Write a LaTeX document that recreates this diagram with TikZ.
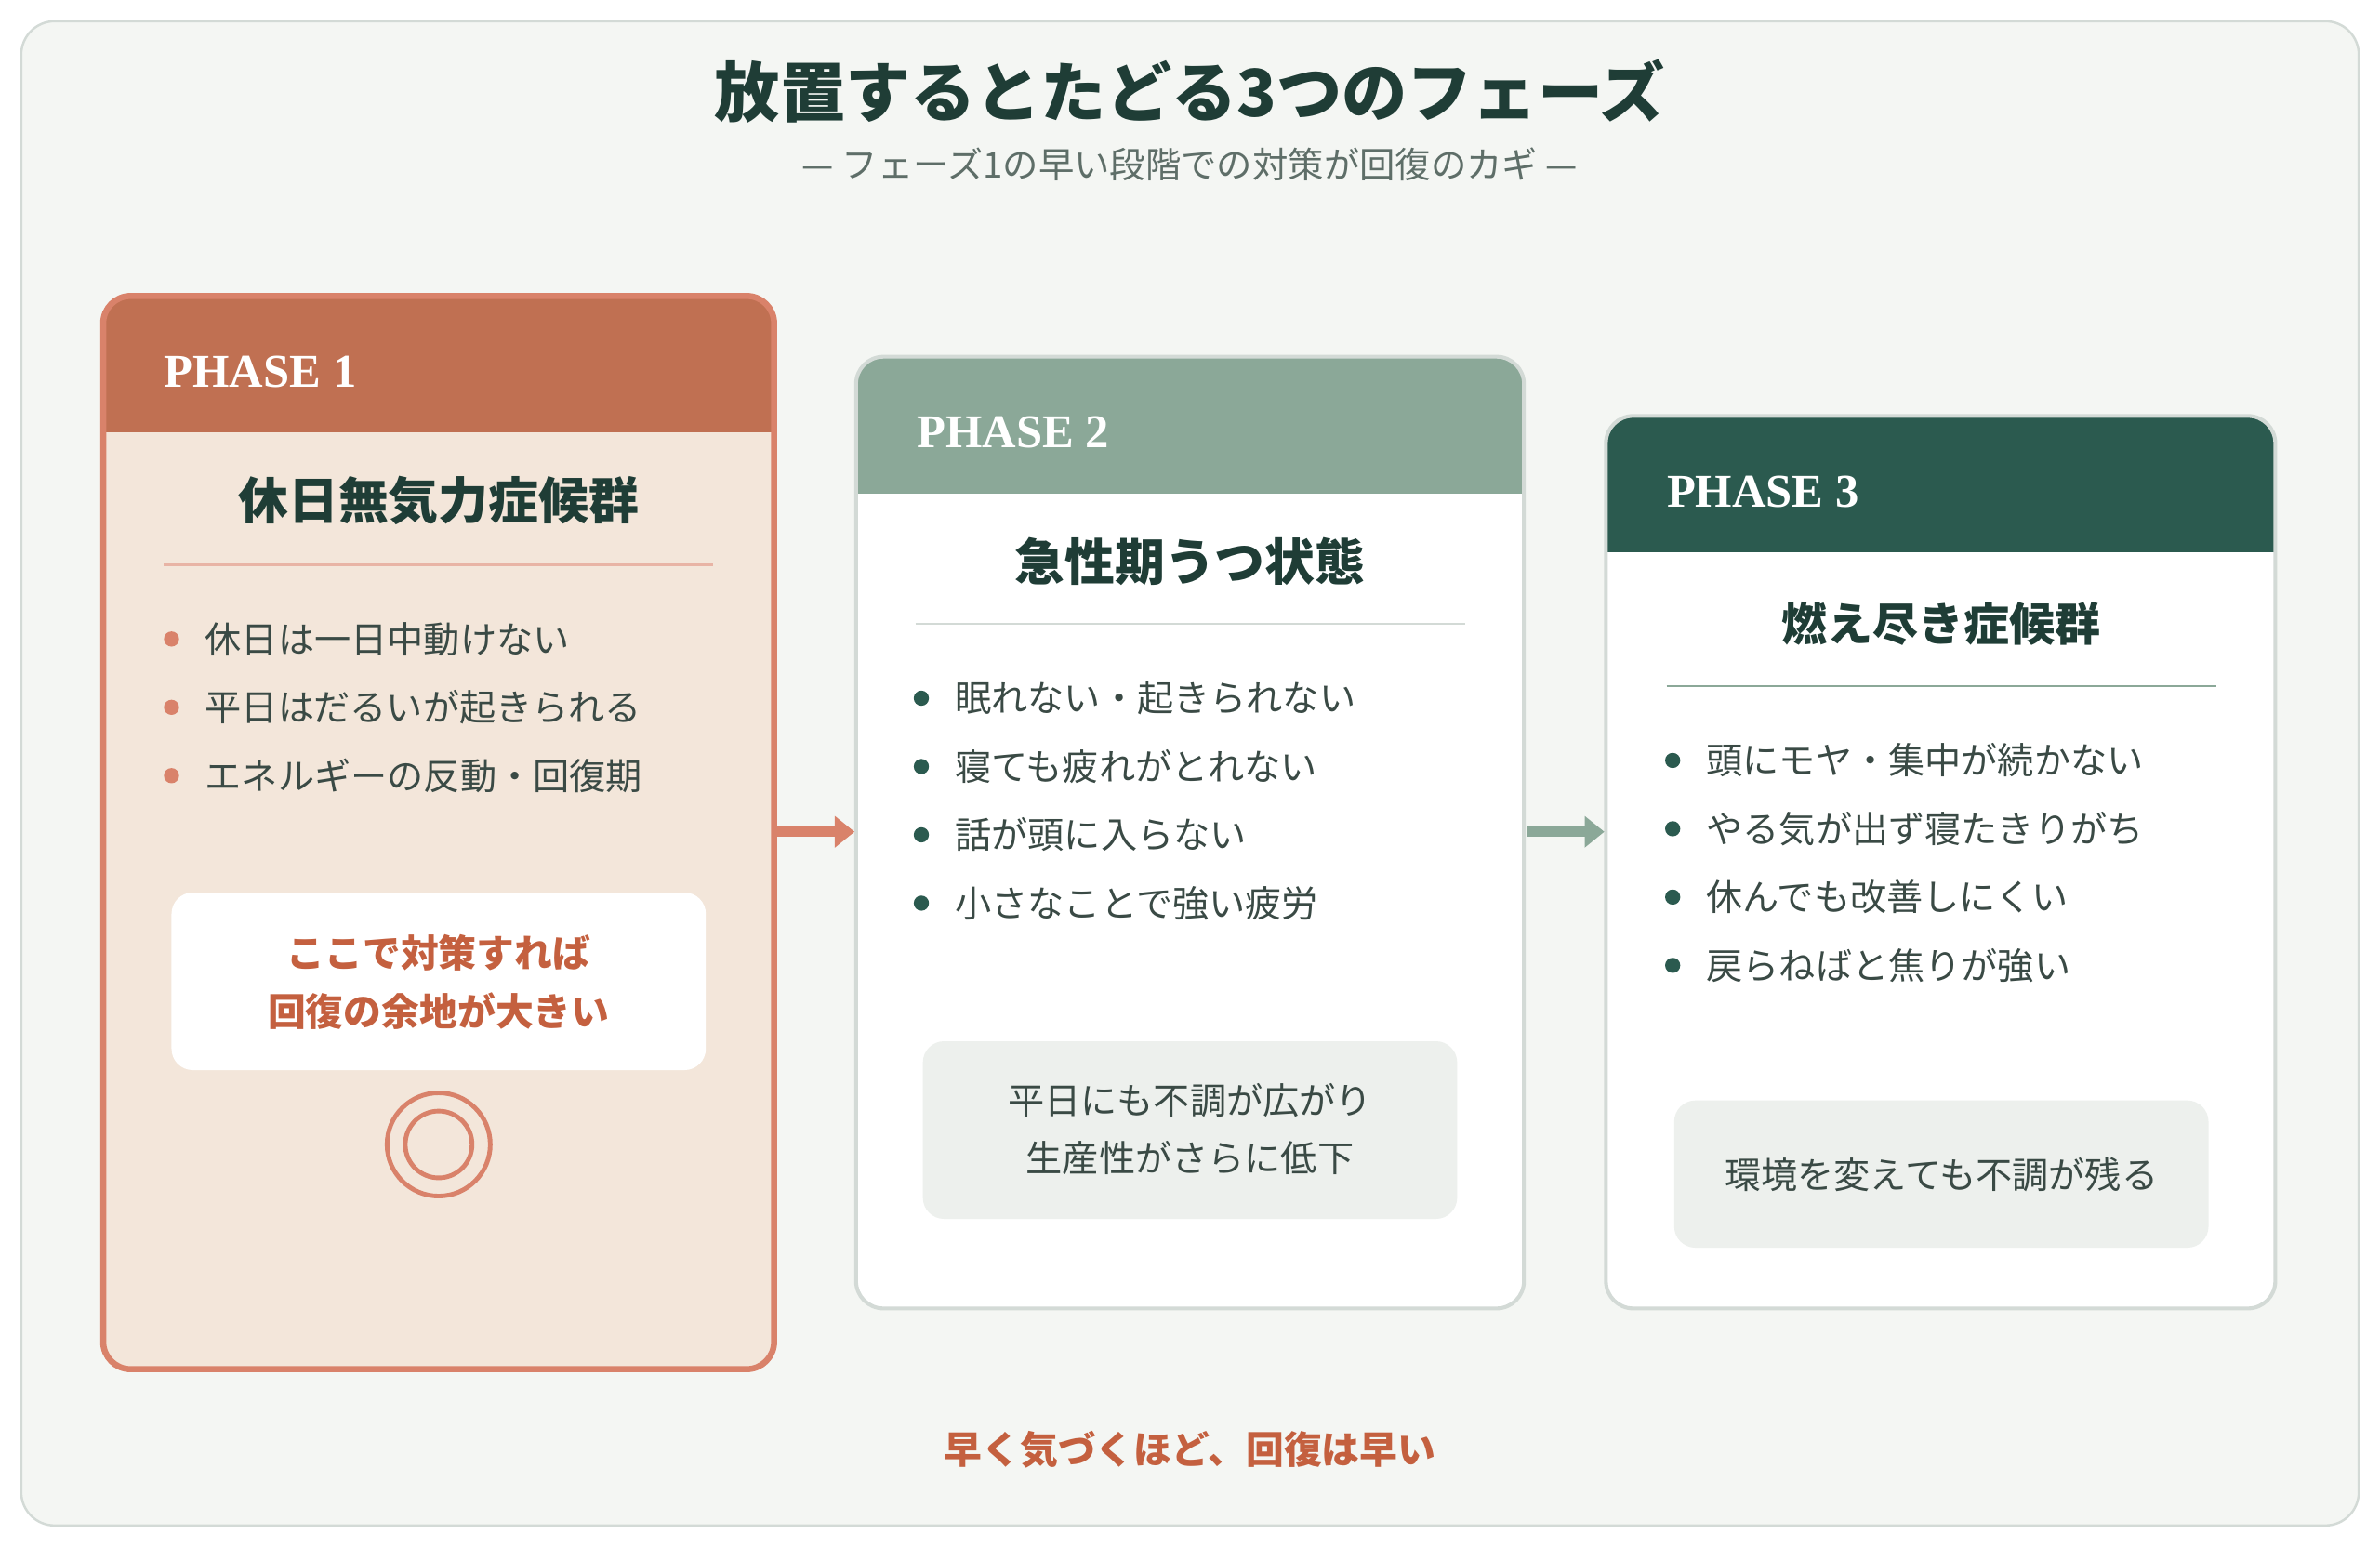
\documentclass[tikz,border=0pt]{standalone}
\usepackage{fontspec}
\setmainfont{Noto Sans CJK JP}
\newfontfamily\phasefont{Liberation Serif}
\usetikzlibrary{arrows.meta}
\definecolor{bg}{HTML}{F4F6F3}
\definecolor{frame}{HTML}{D3DAD6}
\definecolor{dk}{HTML}{1F3D36}
\definecolor{txt}{HTML}{3A4A45}
\definecolor{sub}{HTML}{5E6E68}
\definecolor{rust}{HTML}{C07052}
\definecolor{salm}{HTML}{D9826A}
\definecolor{peach}{HTML}{F3E6DA}
\definecolor{redt}{HTML}{C4603F}
\definecolor{sage}{HTML}{8BA898}
\definecolor{forest}{HTML}{2B5A4F}
\definecolor{boxg}{HTML}{EDF0ED}
\definecolor{bul}{HTML}{2B5A4F}
\begin{document}
\begin{tikzpicture}[x=1pt,y=-1pt,
 phase/.style={anchor=west,inner sep=0pt,text=white,font=\phasefont\bfseries\fontsize{31}{33}\selectfont},
 ttl/.style={text=dk,font=\bfseries\fontsize{33}{36}\selectfont},
 item/.style={anchor=west,inner sep=0pt,text=txt,font=\fontsize{24}{26}\selectfont},
 btxt/.style={text=txt,align=center,font=\fontsize{24}{38}\selectfont},
 arr/.style={line width=7pt,-{Triangle[length=13pt,width=20pt]}}]
\useasboundingbox (0,0) rectangle (1568,1019);
\draw[frame,fill=bg,line width=1.5pt,rounded corners=22] (14,14) rectangle (1554,1005);
\node[text=dk,font=\bfseries\fontsize{43}{46}\selectfont] (title) at (784,60) {放置するとたどる3つのフェーズ};
\node[text=sub,font=\fontsize{23.5}{26}\selectfont] (subtitle) at (784,108) {— フェーズ1の早い段階での対策が回復のカギ —};
% card 1
\begin{scope}
\clip[rounded corners=18] (68,195) rectangle (510,902);
\fill[peach] (68,195) rectangle (510,902);
\fill[rust] (68,195) rectangle (510,285);
\end{scope}
\draw[salm,line width=4pt,rounded corners=18] (68,195) rectangle (510,902);
\node[phase] (p1) at (108,245) {PHASE 1};
\node[ttl] (t1) at (289,330) {休日無気力症候群};
\draw[salm!60,line width=1.5pt] (108,372) -- (470,372);
\foreach \y/\t [count=\i] in {421/休日は一日中動けない,466/平日はだるいが起きられる,511/エネルギーの反動・回復期}{
 \fill[salm] (113,\y) circle (5);
 \node[item] (a\i) at (135,\y) {\t};}
\fill[white,rounded corners=14] (113,588) rectangle (465,705);
\node[text=redt,align=center,font=\bfseries\fontsize{25}{38}\selectfont] (b1) at (289,647) {ここで対策すれば\\回復の余地が大きい};
\draw[salm,line width=3pt] (289,754) circle (34) (289,754) circle (22);
% card 2
\begin{scope}
\clip[rounded corners=18] (564,235) rectangle (1004,862);
\fill[white] (564,235) rectangle (1004,862);
\fill[sage] (564,235) rectangle (1004,325);
\end{scope}
\draw[frame,line width=2.5pt,rounded corners=18] (564,235) rectangle (1004,862);
\node[phase] (p2) at (604,285) {PHASE 2};
\node[ttl] (t2) at (784,370) {急性期うつ状態};
\draw[frame,line width=1.5pt] (603,411) -- (965,411);
\foreach \y/\t [count=\i] in {460/眠れない・起きられない,505/寝ても疲れがとれない,550/話が頭に入らない,595/小さなことで強い疲労}{
 \fill[bul] (607,\y) circle (5);
 \node[item] (c\i) at (629,\y) {\t};}
\fill[boxg,rounded corners=14] (608,686) rectangle (960,803);
\node[btxt] (b2) at (784,744) {平日にも不調が広がり\\生産性がさらに低下};
% card 3
\begin{scope}
\clip[rounded corners=18] (1058,274) rectangle (1499,862);
\fill[white] (1058,274) rectangle (1499,862);
\fill[forest] (1058,274) rectangle (1499,364);
\end{scope}
\draw[frame,line width=2.5pt,rounded corners=18] (1058,274) rectangle (1499,862);
\node[phase] (p3) at (1098,324) {PHASE 3};
\node[ttl,font=\bfseries\fontsize{30}{33}\selectfont] (t3) at (1279,411) {燃え尽き症候群};
\draw[sage,line width=1.5pt] (1098,452) -- (1460,452);
\foreach \y/\t [count=\i] in {501/頭にモヤ・集中が続かない,546/やる気が出ず寝たきりがち,591/休んでも改善しにくい,636/戻らねばと焦りが強い}{
 \fill[bul] (1102,\y) circle (5);
 \node[item] (d\i) at (1124,\y) {\t};}
\fill[boxg,rounded corners=14] (1103,725) rectangle (1455,822);
\node[btxt] (b3) at (1279,774) {環境を変えても不調が残る};
% arrows
\coordinate (s1) at (512,548); \coordinate (e1) at (563,548);
\coordinate (s2) at (1006,548); \coordinate (e2) at (1057,548);
\draw[arr,salm] (s1) -- (e1);
\draw[arr,sage] (s2) -- (e2);
\node[text=redt,font=\bfseries\fontsize{25}{27}\selectfont] (foot) at (784,955) {早く気づくほど、回復は早い};
\end{tikzpicture}
\end{document}
